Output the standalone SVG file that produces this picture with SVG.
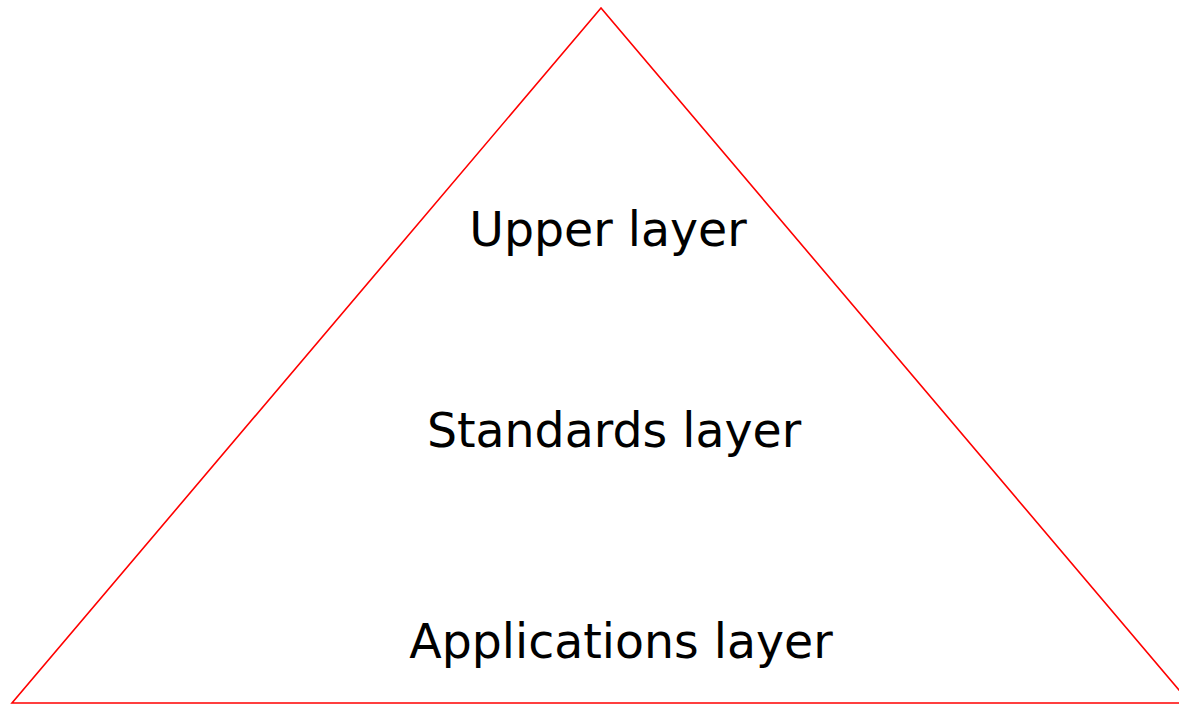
<svg xmlns="http://www.w3.org/2000/svg" width="1179" height="704" viewBox="0 0 1179 704">
  <style>
    .layer-label { font-family: "DejaVu Sans", Verdana, sans-serif; font-size: 47.4px; fill: #000000; text-anchor: middle; }
    .pyramid { fill: #ffffff; stroke: #ff0000; stroke-width: 1.6; }
  </style>
  <rect x="0" y="0" width="1179" height="704" fill="#ffffff"/>
  <g id="pyramid">
    <polygon class="pyramid" points="601,8 12,703 1190,703"/>
  </g>
  <g id="upper-layer">
    <text class="layer-label" x="608" y="246">Upper layer</text>
  </g>
  <g id="standards-layer">
    <text class="layer-label" x="614" y="447">Standards layer</text>
  </g>
  <g id="applications-layer">
    <text class="layer-label" x="621" y="658">Applications layer</text>
  </g>
  <g id="connectors"></g>
</svg>
